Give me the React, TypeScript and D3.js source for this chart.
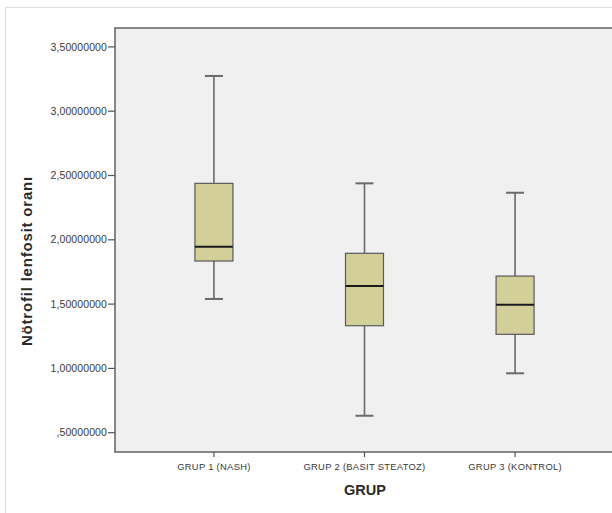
import React, { useEffect, useRef } from 'react';
import * as d3 from 'd3';

const groups = ['GRUP 1 (NASH)', 'GRUP 2 (BASIT STEATOZ)', 'GRUP 3 (KONTROL)'];
const whiskerLow = [1.54, 0.632, 0.962];
const q1 = [1.835, 1.332, 1.265];
const medians = [1.946, 1.641, 1.495];
const q3 = [2.439, 1.895, 1.718];
const whiskerHigh = [3.274, 2.439, 2.366];
const yTicks = [0.5, 1.0, 1.5, 2.0, 2.5, 3.0, 3.5];

const W = 612;
const H = 513;

const App: React.FC = () => {
  const svgRef = useRef<SVGSVGElement>(null);

  useEffect(() => {
    if (!svgRef.current) return;
    const svg = d3.select(svgRef.current);
    svg.selectAll('*').remove();

    const left = 115;
    const right = 614;
    const top = 28;
    const bottom = 452;

    const y = d3.scaleLinear().domain([0.35, 3.647]).range([bottom, top]);
    const x = d3.scalePoint<string>().domain(groups).range([left, right]).padding(0.657);

    // outer frame
    svg.append('rect').attr('x', 0).attr('y', 0).attr('width', W).attr('height', H).attr('fill', '#fff');
    svg.append('path')
      .attr('d', `M5.5,${H} V7.5 H${W}`)
      .attr('fill', 'none')
      .attr('stroke', '#dedede')
      .attr('stroke-width', 1);

    // plot area
    svg.append('rect')
      .attr('x', left).attr('y', top)
      .attr('width', right - left).attr('height', bottom - top)
      .attr('fill', '#f0f0f0')
      .attr('stroke', '#7a7a7a')
      .attr('stroke-width', 1.8);

    // y axis ticks
    const yt = svg.append('g');
    yTicks.forEach((t) => {
      yt.append('line')
        .attr('x1', left - 7).attr('x2', left)
        .attr('y1', y(t)).attr('y2', y(t))
        .attr('stroke', '#555').attr('stroke-width', 1.2);
      const s = d3.format('.8f')(t).replace('.', ',').replace(/^0/, '');
      yt.append('text')
        .attr('x', left - 8).attr('y', y(t))
        .attr('dy', '0.35em')
        .attr('text-anchor', 'end')
        .attr('font-family', 'Liberation Sans, Arial, sans-serif')
        .attr('font-size', 10.5)
        .attr('letter-spacing', 0.1)
        .attr('fill', '#3a3a3a')
        .text(s);
    });

    // x axis ticks
    groups.forEach((g) => {
      const cx = x(g)!;
      svg.append('line')
        .attr('x1', cx).attr('x2', cx)
        .attr('y1', bottom).attr('y2', bottom + 5)
        .attr('stroke', '#555').attr('stroke-width', 1.2);
      svg.append('text')
        .attr('x', cx).attr('y', bottom + 15)
        .attr('dy', '0.35em')
        .attr('text-anchor', 'middle')
        .attr('font-family', 'Liberation Sans, Arial, sans-serif')
        .attr('font-size', 9.4)
        .attr('letter-spacing', 0.3)
        .attr('fill', '#3a3a3a')
        .text(g);
    });

    // boxes
    const boxW = 38;
    const capW = 18;
    groups.forEach((g, i) => {
      const cx = x(g)!;
      const gg = svg.append('g');
      gg.append('line')
        .attr('x1', cx).attr('x2', cx)
        .attr('y1', y(whiskerHigh[i])).attr('y2', y(q3[i]))
        .attr('stroke', '#6a6a6a').attr('stroke-width', 1.6);
      gg.append('line')
        .attr('x1', cx).attr('x2', cx)
        .attr('y1', y(q1[i])).attr('y2', y(whiskerLow[i]))
        .attr('stroke', '#6a6a6a').attr('stroke-width', 1.6);
      [whiskerHigh[i], whiskerLow[i]].forEach((v) => {
        gg.append('line')
          .attr('x1', cx - capW / 2).attr('x2', cx + capW / 2)
          .attr('y1', y(v)).attr('y2', y(v))
          .attr('stroke', '#6a6a6a').attr('stroke-width', 2);
      });
      gg.append('rect')
        .attr('x', cx - boxW / 2).attr('y', y(q3[i]))
        .attr('width', boxW).attr('height', y(q1[i]) - y(q3[i]))
        .attr('fill', '#d3cf98')
        .attr('stroke', '#5a5a5a').attr('stroke-width', 1.2);
      gg.append('line')
        .attr('x1', cx - boxW / 2).attr('x2', cx + boxW / 2)
        .attr('y1', y(medians[i])).attr('y2', y(medians[i]))
        .attr('stroke', '#1a1a1a').attr('stroke-width', 2.2);
    });

    // axis titles
    svg.append('text')
      .attr('x', 365).attr('y', 490)
      .attr('dy', '0.35em')
      .attr('text-anchor', 'middle')
      .attr('font-family', 'Liberation Sans, Arial, sans-serif')
      .attr('font-size', 14.5)
      .attr('font-weight', 'bold')
      .attr('fill', '#2a2a2a')
      .text('GRUP');

    svg.append('text')
      .attr('transform', `translate(27,261) rotate(-90)`)
      .attr('dy', '0.35em')
      .attr('text-anchor', 'middle')
      .attr('font-family', 'Liberation Sans, Arial, sans-serif')
      .attr('font-size', 15)
      .attr('font-weight', 'bold')
      .attr('letter-spacing', 0.8)
      .attr('fill', '#2a2a2a')
      .text('Nötrofil lenfosit oranı');
  }, []);

  return (
    <svg
      ref={svgRef}
      width={W}
      height={H}
      style={{ position: 'absolute', left: 0, top: 0, display: 'block' }}
    />
  );
};

export default App;
